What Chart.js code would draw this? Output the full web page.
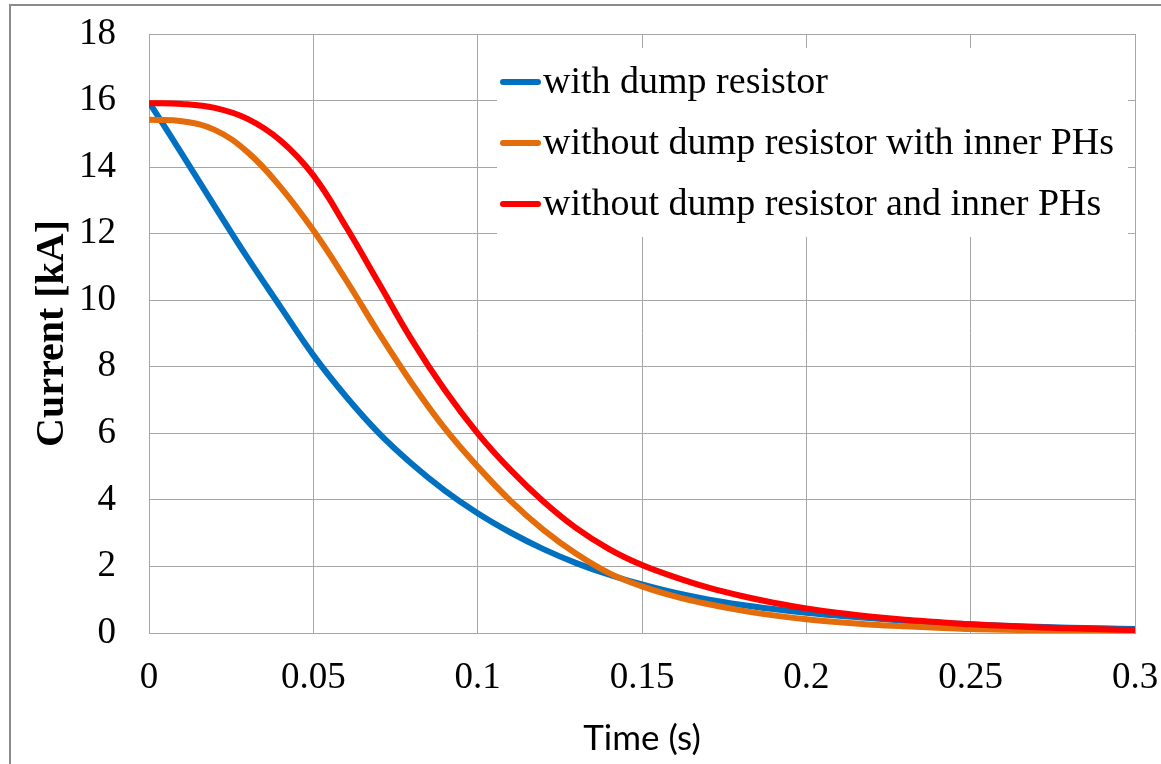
<!DOCTYPE html>
<html>
<head>
<meta charset="utf-8">
<script src="https://cdn.jsdelivr.net/npm/chart.js@4.4.1/dist/chart.umd.min.js"></script>
<style>
  html, body { margin: 0; padding: 0; background: #fff; }
  canvas { display: block; }
</style>
</head>
<body>
<canvas id="currentDecayChart" width="1161" height="764"></canvas>
<script>
// time axis (s)
const timeValues = [0, 0.01, 0.02, 0.03, 0.04, 0.05, 0.06, 0.07, 0.08, 0.09,
  0.10, 0.11, 0.12, 0.13, 0.14, 0.15, 0.16, 0.17, 0.18, 0.19,
  0.20, 0.21, 0.22, 0.23, 0.24, 0.25, 0.26, 0.27, 0.28, 0.29, 0.30];

// current (kA)
const withDump = [15.95, 14.4, 12.82, 11.27, 9.8, 8.35, 7.1, 6.0, 5.08, 4.28,
  3.6, 3.02, 2.52, 2.1, 1.75, 1.46, 1.21, 1.01, 0.85, 0.72,
  0.61, 0.52, 0.44, 0.37, 0.31, 0.26, 0.22, 0.19, 0.16, 0.14, 0.12];
const noDumpInnerPH = [15.42, 15.38, 15.12, 14.45, 13.4, 12.1, 10.6, 9.0, 7.5, 6.15,
  5.0, 3.97, 3.1, 2.38, 1.8, 1.4, 1.1, 0.87, 0.68, 0.53,
  0.41, 0.32, 0.25, 0.2, 0.16, 0.12, 0.1, 0.08, 0.06, 0.05, 0.04];
const noDumpNoInnerPH = [15.92, 15.9, 15.78, 15.45, 14.8, 13.75, 12.2, 10.5, 8.8, 7.3,
  6.0, 4.9, 3.95, 3.15, 2.52, 2.04, 1.68, 1.37, 1.12, 0.91,
  0.74, 0.6, 0.49, 0.4, 0.33, 0.26, 0.22, 0.17, 0.14, 0.11, 0.09];

const seriesLabels = ['with dump resistor', 'without dump resistor with inner PHs', 'without dump resistor and inner PHs'];

const xTicks = [0, 0.05, 0.1, 0.15, 0.2, 0.25, 0.3];
const xTickLabels = ['0', '0.05', '0.1', '0.15', '0.2', '0.25', '0.3'];
const yTicks = [0, 2, 4, 6, 8, 10, 12, 14, 16, 18];
const yTickLabels = ['0', '2', '4', '6', '8', '10', '12', '14', '16', '18'];

const toPoints = vals => vals.map((v, i) => ({ x: timeValues[i], y: v }));

// outer frame like the exported figure
const frame = {
  id: 'frame',
  beforeDraw(chart) {
    const ctx = chart.ctx;
    ctx.save();
    ctx.fillStyle = '#fff';
    ctx.fillRect(0, 0, chart.width, chart.height);
    ctx.strokeStyle = '#8c8c8c';
    ctx.lineWidth = 2;
    ctx.strokeRect(10, 5, 1400, 1000);
    ctx.restore();
  }
};

// legend inside the plot, line sample touching the text
const innerLegend = {
  id: 'innerLegend',
  afterDraw(chart) {
    const ctx = chart.ctx;
    const area = chart.chartArea;
    const x0 = area.left + 348, y0 = area.top + 14;
    ctx.save();
    ctx.fillStyle = '#fff';
    ctx.fillRect(x0, y0, area.right - 7 - x0, 189);
    ctx.font = '38px "Liberation Serif"';
    ctx.textBaseline = 'alphabetic';
    chart.data.datasets.forEach((ds, i) => {
      const base = y0 + 45 + i * 61;
      ctx.strokeStyle = ds.borderColor;
      ctx.lineWidth = 6;
      ctx.lineCap = 'round';
      ctx.beginPath();
      ctx.moveTo(x0 + 6, base - 11);
      ctx.lineTo(x0 + 41, base - 11);
      ctx.stroke();
      ctx.fillStyle = '#000';
      ctx.fillText(ds.label, x0 + 46, base);
    });
    ctx.restore();
  }
};

const ctx = document.getElementById('currentDecayChart').getContext('2d');
const chart = new Chart(ctx, {
  type: 'line',
  data: {
    datasets: [{
      label: seriesLabels[0],
      data: toPoints(withDump),
      borderColor: '#0070c0',
      order: 3
    }, {
      label: seriesLabels[1],
      data: toPoints(noDumpInnerPH),
      borderColor: '#e46c0a',
      order: 2
    }, {
      label: seriesLabels[2],
      data: toPoints(noDumpNoInnerPH),
      borderColor: '#ff0000',
      order: 1
    }]
  },
  options: {
    responsive: false,
    animation: false,
    devicePixelRatio: 1,
    layout: { padding: { top: 34, right: 26, left: 0, bottom: 0 } },
    elements: {
      point: { radius: 0 },
      line: { borderWidth: 6, tension: 0.4, fill: false }
    },
    plugins: {
      legend: { display: false },
      tooltip: { enabled: false }
    },
    scales: {
      x: {
        type: 'linear',
        min: 0,
        max: 0.3,
        afterBuildTicks: s => { s.ticks = xTicks.map(v => ({ value: v })); },
        afterFit: s => { s.height = 131; s.paddingLeft = 0; s.paddingRight = 0; },
        grid: { color: '#a6a6a6', drawTicks: false },
        border: { color: '#a6a6a6' },
        ticks: {
          padding: 23,
          color: '#000',
          maxRotation: 0,
          autoSkip: false,
          font: { family: 'Liberation Serif', size: 37 },
          callback: (v, i) => xTickLabels[i]
        },
        title: {
          display: true,
          text: 'Time (s)',
          color: '#000',
          font: { family: 'Lato', size: 35 },
          padding: { top: 0, bottom: 4 }
        }
      },
      y: {
        min: 0,
        max: 18,
        afterBuildTicks: s => { s.ticks = yTicks.map(v => ({ value: v })); },
        afterFit: s => { s.width = 149; s.paddingTop = 0; s.paddingBottom = 0; },
        grid: { color: '#a6a6a6', drawTicks: false },
        border: { color: '#a6a6a6' },
        ticks: {
          padding: 33,
          color: '#000',
          font: { family: 'Liberation Serif', size: 37 },
          callback: (v, i) => yTickLabels[i]
        },
        title: {
          display: true,
          text: 'Current [kA]',
          color: '#000',
          font: { family: 'Liberation Serif', size: 40, weight: 'bold' },
          padding: { top: 29, bottom: 0 }
        }
      }
    }
  },
  plugins: [frame, innerLegend]
});
</script>
</body>
</html>
